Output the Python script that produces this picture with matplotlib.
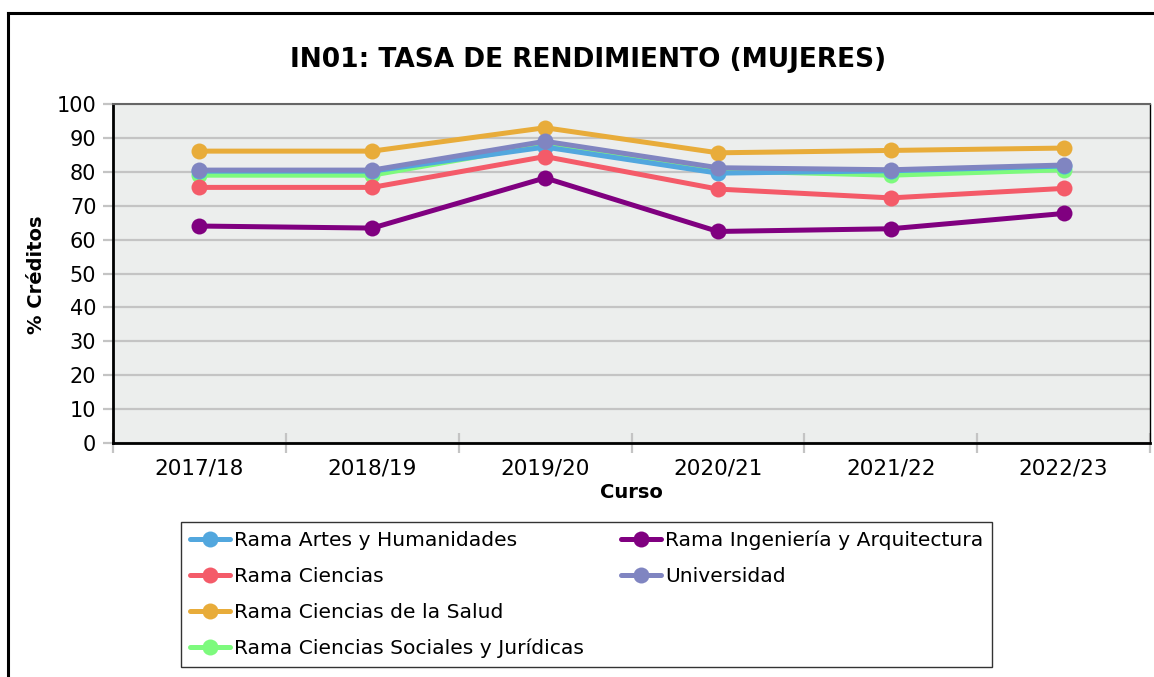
import matplotlib
matplotlib.use("Agg")
import matplotlib.pyplot as plt
from matplotlib.lines import Line2D

cursos = ["2017/18", "2018/19", "2019/20", "2020/21", "2021/22", "2022/23"]
artes = [80.2, 80.2, 87.3, 79.6, 80.3, 81.7]
ingenieria = [64.0, 63.4, 78.2, 62.4, 63.2, 67.7]
ciencias = [75.4, 75.4, 84.5, 74.9, 72.3, 75.1]
universidad = [80.5, 80.5, 89.0, 81.2, 80.6, 82.0]
salud = [86.1, 86.1, 93.0, 85.6, 86.3, 87.0]
sociales = [79.0, 79.0, 88.0, 80.3, 79.0, 80.6]

title = "IN01: TASA DE RENDIMIENTO (MUJERES)"
ylabel = "% Créditos"
xlabel = "Curso"

W, H = 1154, 677
fig = plt.figure(figsize=(W / 100, H / 100), dpi=100)
fig.patch.set_facecolor("white")

def fx(px):
    return px / W

def fy(py):
    return 1 - py / H

ax = fig.add_axes([fx(113), fy(443), fx(1150) - fx(113), fy(104) - fy(443)])
ax.set_facecolor("#ECEEED")

series = [
    ("Rama Artes y Humanidades", artes, "#52A7DE", 3),
    ("Rama Ciencias", ciencias, "#F45B69", 3),
    ("Rama Ciencias de la Salud", salud, "#E8AC3A", 3),
    ("Rama Ciencias Sociales y Jurídicas", sociales, "#7DFA7D", 2),
    ("Rama Ingeniería y Arquitectura", ingenieria, "#800080", 3),
    ("Universidad", universidad, "#8085C1", 4),
]

x = list(range(len(cursos)))
handles = []
for name, vals, col, z in series:
    h, = ax.plot(x, vals, color=col, lw=3.6, marker="o", ms=11.5,
                 markeredgewidth=0, label=name, zorder=z, solid_capstyle="round")
    handles.append(h)

ax.set_xlim(-0.5, 5.5)
ax.set_ylim(0, 100)
ax.set_yticks(range(0, 101, 10))
ax.set_xticks(x)
ax.set_xticklabels(cursos)
ax.set_xticks([i - 0.5 for i in range(len(cursos) + 1)], minor=True)
ax.grid(axis="y", color="#C4C4C4", lw=1.6, zorder=1)
ax.set_axisbelow(True)

ax.tick_params(axis="y", length=7, width=1.6, color="#C4C4C4", labelsize=15, pad=5,
               labelcolor="black")
ax.tick_params(axis="x", which="major", length=0, labelsize=15.5, pad=11, labelcolor="black")
ax.tick_params(axis="x", which="minor", direction="inout", length=15, width=1.6,
               color="#C4C4C4")

ax.spines["left"].set_color("black")
ax.spines["left"].set_linewidth(2)
ax.spines["bottom"].set_color("black")
ax.spines["bottom"].set_linewidth(2)
ax.spines["top"].set_color("#666666")
ax.spines["top"].set_linewidth(1.5)
ax.spines["right"].set_color("black")
ax.spines["right"].set_linewidth(1)

fig.text(fx(588), fy(60), title, ha="center", va="center", fontsize=19,
         fontweight="bold")
fig.text(fx(37), fy(275), ylabel, ha="center", va="center", fontsize=14,
         fontweight="bold", rotation=90)
fig.text(fx(631), fy(492), xlabel, ha="center", va="center", fontsize=14,
         fontweight="bold")

blank = Line2D([], [], color="none")
leg_handles = handles + [blank, blank]
leg_labels = [s[0] for s in series] + ["", ""]
leg = fig.legend(leg_handles, leg_labels, ncol=2, loc="upper left",
                 bbox_to_anchor=(fx(181), fy(665), fx(992) - fx(181), fy(522) - fy(665)),
                 mode="expand", fontsize=14.6, frameon=True, fancybox=False,
                 edgecolor="black", handlelength=2.0, handletextpad=0.2,
                 labelspacing=0.83, borderpad=0.42, borderaxespad=0,
                 columnspacing=1.0)
leg.get_frame().set_linewidth(1)

fig.add_artist(Line2D([fx(8), fx(1154)], [fy(13), fy(13)], color="black", lw=2.2,
                      transform=fig.transFigure))
fig.add_artist(Line2D([fx(8), fx(8)], [fy(13), fy(677)], color="black", lw=2.2,
                      transform=fig.transFigure))

fig.savefig("out.png", dpi=100)
